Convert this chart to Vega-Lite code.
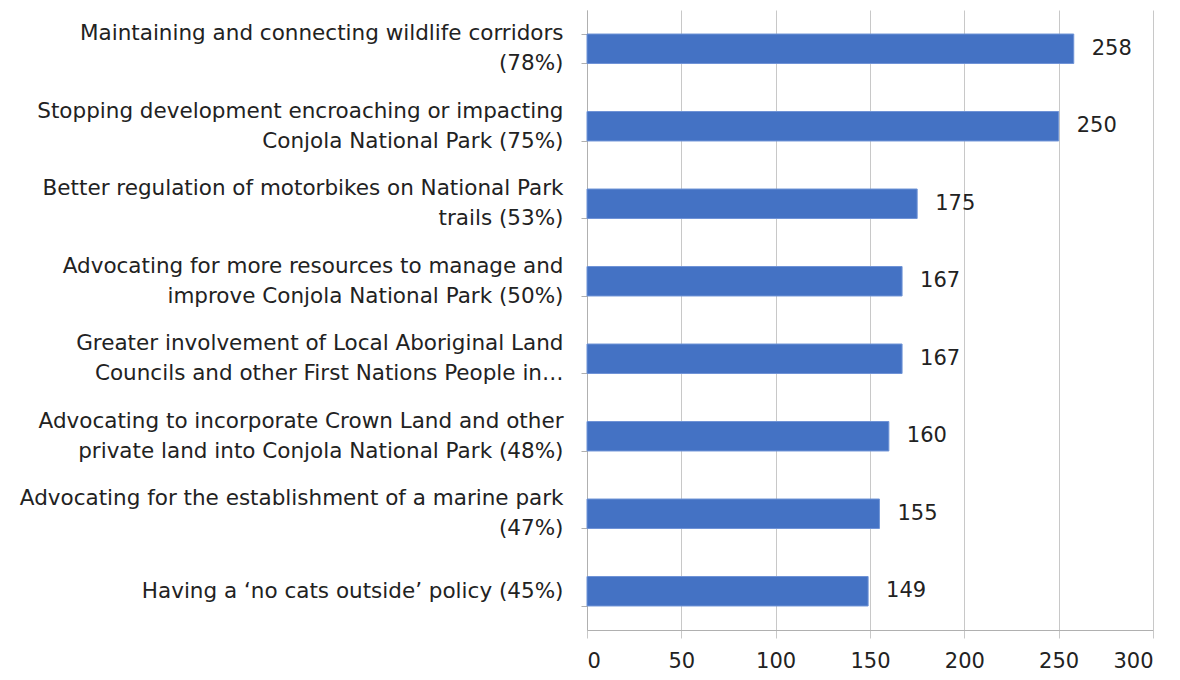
{
  "$schema": "https://vega.github.io/schema/vega-lite/v6.json",
  "width": 566,
  "height": 620,
  "autosize": {"type": "none"},
  "padding": {"left": 587, "top": 10, "right": 27, "bottom": 50},
  "background": "white",
  "config": {"view": {"stroke": null}, "font": "DejaVu Sans"},
  "data": {"values": [
    {"label": "Maintaining and connecting wildlife corridors|(78%)", "count": 258},
    {"label": "Stopping development encroaching or impacting|Conjola National Park (75%)", "count": 250},
    {"label": "Better regulation of motorbikes on National Park|trails (53%)", "count": 175},
    {"label": "Advocating for more resources to manage and|improve Conjola National Park (50%)", "count": 167},
    {"label": "Greater involvement of Local Aboriginal Land|Councils and other First Nations People in…", "count": 167},
    {"label": "Advocating to incorporate Crown Land and other|private land into Conjola National Park (48%)", "count": 160},
    {"label": "Advocating for the establishment of a marine park|(47%)", "count": 155},
    {"label": "Having a ‘no cats outside’ policy (45%)", "count": 149}
  ]},
  "encoding": {
    "y": {
      "field": "label", "type": "nominal", "sort": null, "title": null,
      "scale": {"paddingInner": 0.62, "paddingOuter": 0.31},
      "axis": {
        "labelExpr": "indexof(datum.label, '|') < 0 ? datum.label : [split(datum.label, '|')[0], pad(split(datum.label, '|')[1], length(split(datum.label, '|')[1]) + (indexof(datum.label, 'Maintaining') == 0 ? 31 : indexof(datum.label, 'Stopping') == 0 ? 16 : indexof(datum.label, 'Better') == 0 ? 29 : indexof(datum.label, 'Advocating for more') == 0 ? 8 : indexof(datum.label, 'Greater') == 0 ? 1 : indexof(datum.label, 'Advocating to') == 0 ? 3 : 35), '\u00a0')]",
        "labelFontSize": 21.5, "labelColor": "#222222", "labelLimit": 700,
        "labelLineHeight": 30, "labelPadding": 18,
        "labelOffset": {"condition": {"test": "indexof(datum.label, '|') >= 0", "value": -15}, "value": 0},
        "tickBand": "extent", "tickSize": 6, "tickColor": "#b0b0b0",
        "domainColor": "#b0b0b0", "grid": false
      }
    },
    "x": {
      "field": "count", "type": "quantitative", "title": null,
      "scale": {"domain": [0, 300], "nice": false},
      "axis": {
        "values": [0, 50, 100, 150, 200, 250, 300],
        "grid": true, "gridColor": "#c8c8c8",
        "tickSize": 8, "tickColor": "#c8c8c8", "domainColor": "#b0b0b0",
        "labelFontSize": 21, "labelColor": "#222222", "labelPadding": 12
      }
    }
  },
  "layer": [
    {"mark": {"type": "bar", "color": "#4472C4", "stroke": "#6f93d6", "strokeWidth": 1}},
    {"mark": {"type": "text", "align": "left", "dx": 18, "fontSize": 21, "color": "#222222"},
     "encoding": {"text": {"field": "count", "type": "quantitative"}}}
  ]
}
